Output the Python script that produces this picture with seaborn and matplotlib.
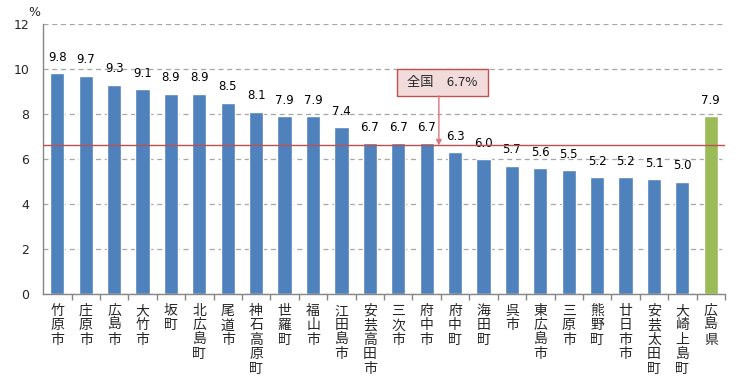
import numpy as np
import pandas as pd
import matplotlib
matplotlib.use('Agg')
import matplotlib.pyplot as plt
import seaborn as sns
from matplotlib.ticker import FixedLocator
from matplotlib.patches import Rectangle

# --- data ---
areas = ['竹原市', '庄原市', '広島市', '大竹市', '坂町', '北広島町', '尾道市', '神石高原町',
         '世羅町', '福山市', '江田島市', '安芸高田市', '三次市', '府中市', '府中町', '海田町',
         '呉市', '東広島市', '三原市', '熊野町', '廿日市市', '安芸太田町', '大崎上島町', '広島県']
rates = [9.8, 9.7, 9.3, 9.1, 8.9, 8.9, 8.5, 8.1, 7.9, 7.9, 7.4, 6.7, 6.7, 6.7, 6.3, 6.0,
         5.7, 5.6, 5.5, 5.2, 5.2, 5.1, 5.0, 7.9]
national_line = 6.6
national_label = '全国　6.7%'

sns.set_theme(style='white')
plt.rcParams['font.family'] = ['Noto Sans CJK JP', 'DejaVu Sans']

df = pd.DataFrame({'area': areas, 'rate': rates})
colors = ['#4f81bd'] * (len(areas) - 1) + ['#9bbb59']

fig = plt.figure(figsize=(7.56, 3.79), dpi=100)
ax = fig.add_axes([0.057, 0.224, 0.902, 0.713])

sns.barplot(data=df, x='area', y='rate', hue='area', palette=colors, legend=False,
            width=0.5, saturation=1, ax=ax)

ax.set_xlim(-0.5, len(areas) - 0.5)
ax.set_ylim(0, 12)
ax.set_yticks(range(0, 13, 2))
ax.yaxis.grid(True, color='#a6a6a6', linestyle=(0, (4, 3)), linewidth=0.9)
ax.set_axisbelow(True)

for i, v in enumerate(rates):
    ax.text(i, v + 0.42, f'{v:.1f}', ha='center', va='bottom', fontsize=8.5,
            family='DejaVu Sans', color='#000000')

# national average line + callout
ax.axhline(national_line, color='#c0504d', linewidth=1.0, zorder=3)
ax.add_patch(Rectangle((11.96, 8.8), 3.2, 1.2, facecolor='#f2dcdb', edgecolor='#c0504d',
                       linewidth=1, zorder=4, clip_on=False))
ax.text(13.56, 9.4, national_label, ha='center', va='center', fontsize=9.5, zorder=5)
ax.annotate('', xy=(13.43, national_line), xytext=(13.43, 8.8),
            arrowprops=dict(arrowstyle='-|>', color='#d9777a', linewidth=1, mutation_scale=8,
                            shrinkA=0, shrinkB=0), zorder=4)

ax.set_xticks(range(len(areas)))
ax.set_xticklabels(['\n'.join(a) for a in areas], fontsize=10, linespacing=1.05, va='top')
ax.tick_params(axis='x', which='major', length=0, pad=7)
ax.xaxis.set_minor_locator(FixedLocator(np.arange(0.5, len(areas), 1.0)))
ax.tick_params(axis='x', which='minor', length=4, color='#868686', direction='out', bottom=True)
ax.tick_params(axis='y', length=0, labelsize=9, pad=10)
for lbl in ax.get_yticklabels():
    lbl.set_family('DejaVu Sans')

ax.set_xlabel('')
ax.set_ylabel('')
for s in ['top', 'right']:
    ax.spines[s].set_visible(False)
for s in ['left', 'bottom']:
    ax.spines[s].set_color('#868686')
    ax.spines[s].set_linewidth(1)

fig.text(0.045, 0.968, '%', ha='center', va='center', fontsize=9, family='DejaVu Sans')

fig.savefig('out.png', dpi=100)
